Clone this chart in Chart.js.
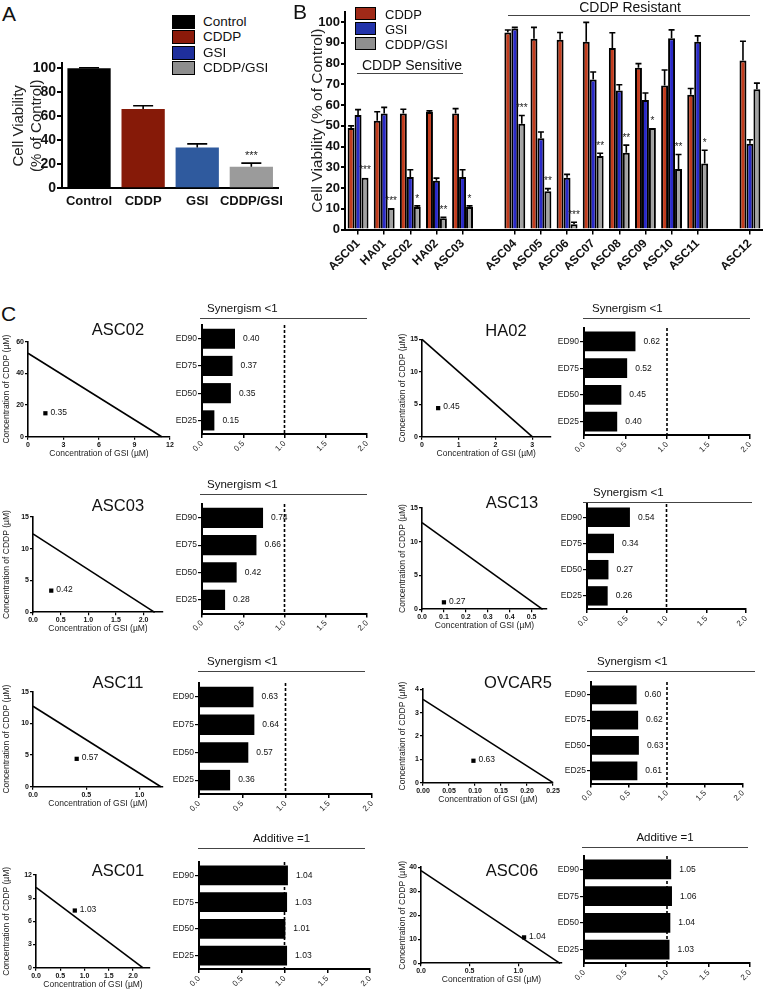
<!DOCTYPE html>
<html>
<head>
<meta charset="utf-8">
<script src="https://cdn.jsdelivr.net/npm/chart.js@4.4.1/dist/chart.umd.min.js"></script>
<style>
  body { margin: 0; background: #fff; width: 763px; height: 995px; position: relative; overflow: hidden;
         font-family: "Liberation Sans", Arial, Helvetica, sans-serif; color: #111; }
  canvas { position: absolute; }
  .t { position: absolute; white-space: nowrap; line-height: 1; }
  .sq { position: absolute; border: 1px solid #000; box-sizing: border-box; }
  .rule { position: absolute; height: 0; border-top: 1px solid #444; }
</style>
</head>
<body>
<script>
// ---------- Panel A : cell viability, pooled ----------
const aCategories = ['Control', 'CDDP', 'GSI', 'CDDP/GSI'];
const aViability = [100, 66, 34, 18];
const aError = [0.4, 2.7, 3, 3];
const aStars = ['', '', '', '***'];
const aTicks = ['0', '20', '40', '60', '80', '100'];

// ---------- Panel B : viability per cell line ----------
const bLines = ['ASC01', 'HA01', 'ASC02', 'HA02', 'ASC03', '', 'ASC04', 'ASC05', 'ASC06', 'ASC07', 'ASC08', 'ASC09', 'ASC10', 'ASC11', '', 'ASC12'];
const bSeries = ['CDDP', 'GSI', 'CDDP/GSI'];
const bCddp     = [49, 52.5, 56, 56.7, 56, null, 95, 92, 91.5, 90.5, 87.5, 78, 69.5, 65, null, 81.5];
const bCddpErr  = [1, 4.3, 2, 0.5, 2.3, null, 1.2, 5.5, 3.5, 9.4, 7.4, 2, 7.4, 3, null, 9.3];
const bGsi      = [55.2, 56, 25.3, 23.5, 25.3, null, 97, 44, 25, 72.4, 67, 62.4, 92.3, 90.5, null, 41.3];
const bGsiErr   = [2.6, 2.9, 3.5, 1.3, 3.5, null, 0.5, 3, 1.6, 3.6, 2.8, 3.4, 4, 2.9, null, 2];
const bCombo    = [25, 10.4, 10.9, 5.4, 10.9, null, 51, 18.5, 2.5, 35.5, 37, 49, 29.2, 31.8, null, 67.7];
const bComboErr = [0, 0, 0.5, 0.5, 0.5, null, 4, 1.2, 1, 1.3, 3.7, 0, 7, 6.4, null, 2.9];
const bStars    = ['***', '***', '*', '**', '*', '', '***', '**', '***', '**', '**', '*', '**', '*', '', ''];
const bTicks = ['0', '10', '20', '30', '40', '50', '60', '70', '80', '90', '100'];
const bGroups = ['CDDP Sensitive', 'CDDP Resistant'];

// ---------- Panel C : isobolograms and combination indices ----------
const cellLines = ['ASC02', 'HA02', 'ASC03', 'ASC13', 'ASC11', 'OVCAR5', 'ASC01', 'ASC06'];
const cddpAlone = [52.7, 15, 12.3, 12.8, 12.7, 3.57, 10.4, 38.6];
const gsiAlone  = [11.3, 3, 2.2, 0.55, 1.2, 0.25, 2.2, 1.43];
const comboGsi  = [1.47, 0.44, 0.33, 0.1, 0.41, 0.097, 0.8, 1.06];
const comboCddp = [14.8, 4.4, 3.4, 1.03, 4.4, 0.94, 7.4, 10.8];
const comboCi   = ['0.35', '0.45', '0.42', '0.27', '0.57', '0.63', '1.03', '1.04'];
const isoXMax = [12, 3.5, 2.35, 0.57, 1.22, 0.25, 2.35, 1.45];
const isoYMax = [60, 15, 15, 15, 15, 4, 12, 40];
const isoXTicks = [
  ['0', '3', '6', '9', '12'], ['0', '1', '2', '3'], ['0.0', '0.5', '1.0', '1.5', '2.0'],
  ['0.0', '0.1', '0.2', '0.3', '0.4', '0.5'], ['0.0', '0.5', '1.0'],
  ['0.00', '0.05', '0.10', '0.15', '0.20', '0.25'], ['0.0', '0.5', '1.0', '1.5', '2.0'], ['0.0', '0.5', '1.0']
];
const isoYTicks = [
  ['0', '20', '40', '60'], ['0', '5', '10', '15'], ['0', '5', '10', '15'], ['0', '5', '10', '15'],
  ['0', '5', '10', '15'], ['0', '1', '2', '3', '4'], ['0', '3', '6', '9', '12'], ['0', '10', '20', '30', '40']
];
const edLabels = ['ED90', 'ED75', 'ED50', 'ED25'];
const ciValues = [
  [0.40, 0.37, 0.35, 0.15], [0.62, 0.52, 0.45, 0.40], [0.74, 0.66, 0.42, 0.28], [0.54, 0.34, 0.27, 0.26],
  [0.63, 0.64, 0.57, 0.36], [0.60, 0.62, 0.63, 0.61], [1.04, 1.03, 1.01, 1.03], [1.05, 1.06, 1.04, 1.03]
];
const ciTicks = ['0.0', '0.5', '1.0', '1.5', '2.0'];
const ciHeadings = ['Synergism <1', 'Synergism <1', 'Synergism <1', 'Synergism <1', 'Synergism <1', 'Synergism <1', 'Additive =1', 'Additive =1'];

// ---------- layout (page pixels) ----------
const isoBox = [[28, 170, 341.7, 436.7], [422, 550.5, 339.3, 436.7], [33, 163, 516.7, 612.3], [422, 547, 507.7, 609.3],
                [33, 163, 691.7, 786.7], [423, 553, 689.3, 782.7], [36, 150, 875, 967.7], [421, 562, 867.3, 963.3]];
const barBox = [[202, 367, 322.5, 434], [584, 750, 325.5, 435], [202, 367, 501.5, 613.5], [587, 746, 502.3, 609],
                [199, 372, 681, 794], [591, 743, 680.4, 783.5], [199, 370, 859.5, 969], [584, 750, 854, 963]];
const nameAt = [[118, 329], [506, 330], [118, 505], [512, 502], [118, 682], [518, 682], [118, 870], [512, 870]];
const headAt = [[200, 367, 318, 207], [583, 750, 318, 592], [200, 367, 494, 207], [583, 752, 502, 593],
                [198, 365, 671, 207], [587, 755, 671, 597], [198, 365, 848, 257], [582, 748, 847, 642]];

const FONT = '"Liberation Sans", Arial, Helvetica, sans-serif';
Chart.defaults.font.family = FONT;
Chart.defaults.color = '#111';
Chart.defaults.plugins.legend.display = false;
Chart.defaults.plugins.tooltip.enabled = false;

// error bars, stars, value labels, point labels, dashed reference line
const marks = {
  id: 'marks',
  beforeDatasetsDraw(chart, args, opts) {
    if (opts.refLine == null) return;
    const ctx = chart.ctx, a = chart.chartArea;
    const px = chart.scales.x.getPixelForValue(opts.refLine);
    ctx.save();
    ctx.strokeStyle = '#000'; ctx.lineWidth = 1.6; ctx.setLineDash([3, 2]);
    ctx.beginPath(); ctx.moveTo(px, a.top); ctx.lineTo(px, a.bottom); ctx.stroke();
    ctx.restore();
  },
  afterDatasetsDraw(chart) {
    const ctx = chart.ctx;
    ctx.save();
    chart.data.datasets.forEach((ds, di) => {
      const meta = chart.getDatasetMeta(di);
      meta.data.forEach((el, i) => {
        const v = ds.data[i];
        if (v == null) return;
        if (ds.errors) {
          const ys = chart.scales.y;
          const e = ds.errors[i] || 0;
          const top = ys.getPixelForValue(v + e);
          if (e > 0) {
            ctx.strokeStyle = '#000'; ctx.lineWidth = 1.6;
            ctx.beginPath();
            ctx.moveTo(el.x, el.y); ctx.lineTo(el.x, top);
            ctx.moveTo(el.x - ds.capHalf, top); ctx.lineTo(el.x + ds.capHalf, top);
            ctx.stroke();
          }
          if (ds.stars && ds.stars[i]) {
            ctx.fillStyle = '#222'; ctx.font = ds.starFont;
            ctx.textAlign = 'center'; ctx.textBaseline = 'bottom';
            ctx.fillText(ds.stars[i], el.x, top - 2);
          }
        }
        if (ds.valueLabels) {
          ctx.fillStyle = '#111'; ctx.font = '8.5px ' + FONT;
          ctx.textAlign = 'left'; ctx.textBaseline = 'middle';
          ctx.fillText(v.toFixed(2), el.x + 8, el.y);
        }
        if (ds.pointLabels) {
          ctx.fillStyle = '#111'; ctx.font = '8.5px ' + FONT;
          ctx.textAlign = 'left'; ctx.textBaseline = 'middle';
          ctx.fillText(ds.pointLabels[i], el.x + 5, el.y - 1);
        }
      });
    });
    ctx.restore();
  }
};

// place a chart so that its plot area sits at box = [x0, x1, y0, y1]
function mk(box, pad, config) {
  const [x0, x1, y0, y1] = box;
  const left = Math.round(x0 - pad.l), top = Math.round(y0 - pad.t);
  const w = Math.round(x1 + pad.r) - left, h = Math.round(y1 + pad.b) - top;
  const c = document.createElement('canvas');
  c.width = w; c.height = h;
  Object.assign(c.style, { left: left + 'px', top: top + 'px', width: w + 'px', height: h + 'px' });
  document.body.appendChild(c);
  const o = config.options;
  o.responsive = false; o.animation = false; o.devicePixelRatio = 1;
  o.layout = { padding: { top: y0 - top, right: Math.round(x1 + pad.r) - x1, left: 0, bottom: 0 } };
  o.scales.x.afterFit = s => { s.height = Math.round(y1 + pad.b) - y1; };
  o.scales.y.afterFit = s => { s.width = x0 - left; };
  config.plugins = [marks];
  return new Chart(c, config);
}

function fixedTicks(list) {
  return s => { s.ticks = list.map(t => ({ value: parseFloat(t) })); };
}

function text(str, x, y, css, centred) {
  const d = document.createElement('div');
  d.className = 't';
  d.textContent = str;
  d.style.cssText += css;
  d.style.left = x + 'px';
  d.style.top = y + 'px';
  d.style.transform = centred ? 'translate(-50%,-50%)' : 'translateY(-50%)';
  document.body.appendChild(d);
}

function swatch(x, y, w, h, color) {
  const d = document.createElement('div');
  d.className = 'sq';
  Object.assign(d.style, { left: x + 'px', top: y + 'px', width: w + 'px', height: h + 'px', background: color });
  document.body.appendChild(d);
}

function rule(x0, x1, y) {
  const d = document.createElement('div');
  d.className = 'rule';
  Object.assign(d.style, { left: x0 + 'px', top: y + 'px', width: (x1 - x0) + 'px' });
  document.body.appendChild(d);
}

const blackBorder = { color: '#000', width: 2 };

// ---------- A ----------
const aColors = ['#000000', '#861a08', '#2f5a9e', '#9b9b9b'];
const aLegendColors = ['#000000', '#8b1a0a', '#1f2f9c', '#8e8e8e'];
mk([62, 279, 61.7, 188.3], { l: 62, r: 10, t: 8, b: 26 }, {
  type: 'bar',
  data: {
    labels: aCategories,
    datasets: [{
      data: aViability, errors: aError, stars: aStars, capHalf: 10, starFont: '11px ' + FONT,
      backgroundColor: aColors, borderWidth: 0, barPercentage: 0.8, categoryPercentage: 1
    }]
  },
  options: {
    scales: {
      x: {
        grid: { drawOnChartArea: false, drawTicks: false },
        border: blackBorder,
        ticks: { font: { size: 13, weight: 'bold' }, color: '#111', maxRotation: 0, autoSkip: false, padding: 5 }
      },
      y: {
        min: 0, max: 104,
        afterBuildTicks: fixedTicks(aTicks),
        grid: { drawOnChartArea: false, color: '#000', lineWidth: 2, tickLength: 5 },
        border: blackBorder,
        ticks: { callback: (v, i) => aTicks[i], font: { size: 14, weight: 'bold' }, color: '#111', padding: 1 },
        title: { display: true, text: ['Cell Viability', '(% of Control)'], font: { size: 15 }, color: '#222', padding: { top: 10, bottom: 0 } }
      }
    }
  }
});
text('A', 2, 13, 'font-size:21px;', false);
aCategories.forEach((name, i) => {
  const cy = 21.5 + i * 15.6;
  swatch(172, cy - 7, 23, 14, aLegendColors[i]);
  text(name, 203, cy, 'font-size:13.5px;', false);
});

// ---------- B ----------
const bColors = ['#c23c1d', '#2a2ac8', '#a3a3a3'];
const bLegendColors = ['#a02a18', '#2233aa', '#8f8f8f'];
const bErrors = [bCddpErr, bGsiErr, bComboErr];
mk([345, 763, 11, 229.5], { l: 37, r: 0, t: 8, b: 40 }, {
  type: 'bar',
  data: {
    labels: bLines,
    datasets: [bCddp, bGsi, bCombo].map((vals, s) => ({
      label: bSeries[s], data: vals, errors: bErrors[s], stars: s === 2 ? bStars : null,
      capHalf: 3, starFont: '10px ' + FONT,
      backgroundColor: bColors[s], borderColor: '#000', borderWidth: 2,
      barPercentage: 1, categoryPercentage: 0.8
    }))
  },
  options: {
    scales: {
      x: {
        grid: { drawOnChartArea: false, offset: false, lineWidth: 1.5, tickLength: 5,
                tickColor: c => (bLines[c.index] ? '#000' : 'rgba(0,0,0,0)') },
        border: blackBorder,
        ticks: { font: { size: 12, weight: 'bold' }, color: '#111', minRotation: 45, maxRotation: 45, autoSkip: false, padding: 2 }
      },
      y: {
        min: 0, max: 105,
        afterBuildTicks: fixedTicks(bTicks),
        grid: { drawOnChartArea: false, color: '#000', lineWidth: 2, tickLength: 4 },
        border: blackBorder,
        ticks: { callback: (v, i) => bTicks[i], font: { size: 13, weight: 'bold' }, color: '#111', padding: 1 },
        title: { display: true, text: 'Cell Viability (% of Control)', font: { size: 15.5 }, color: '#222', padding: { top: 0, bottom: 0 } }
      }
    }
  }
});
text('B', 293, 11, 'font-size:21px;', false);
bSeries.forEach((name, i) => {
  const cy = 13.5 + i * 15;
  swatch(355, cy - 6.5, 21, 13, bLegendColors[i]);
  text(name, 385, cy, 'font-size:13px;', false);
});
text(bGroups[0], 412, 65, 'font-size:14px;', true);
rule(357, 463, 73);
text(bGroups[1], 630, 7, 'font-size:14px;', true);
rule(508, 750, 15);

// ---------- C ----------
text('C', 1, 313, 'font-size:21px;', false);
cellLines.forEach((name, k) => {
  const xt = isoXTicks[k], yt = isoYTicks[k];
  const box = isoBox[k];
  const canvasLeft = k % 2 ? 398 : 2;
  mk(box, { l: box[0] - canvasLeft, r: 12, t: 8, b: 22 }, {
    type: 'scatter',
    data: {
      datasets: [
        { data: [{ x: 0, y: cddpAlone[k] }, { x: gsiAlone[k], y: 0 }], showLine: true,
          borderColor: '#000', borderWidth: 1.6, pointRadius: 0, clip: false },
        { data: [{ x: comboGsi[k], y: comboCddp[k] }], pointLabels: [comboCi[k]],
          pointStyle: 'rect', pointRadius: 3, backgroundColor: '#000', borderWidth: 0, clip: false }
      ]
    },
    options: {
      scales: {
        x: {
          type: 'linear', min: 0, max: isoXMax[k],
          afterBuildTicks: fixedTicks(xt),
          grid: { drawOnChartArea: false, color: '#000', lineWidth: 1.2, tickLength: 3 },
          border: { color: '#000', width: 1.6 },
          ticks: { callback: (v, i) => xt[i], font: { size: 7, weight: 'bold' }, color: '#111', maxRotation: 0, padding: 1 },
          title: { display: true, text: 'Concentration of GSI (µM)', font: { size: 8.5 }, color: '#222', padding: 0 }
        },
        y: {
          type: 'linear', min: 0, max: isoYMax[k],
          afterBuildTicks: fixedTicks(yt),
          grid: { drawOnChartArea: false, color: '#000', lineWidth: 1.2, tickLength: 3 },
          border: { color: '#000', width: 1.6 },
          ticks: { callback: (v, i) => yt[i], font: { size: 7, weight: 'bold' }, color: '#111', padding: 1 },
          title: { display: true, text: 'Concentration of CDDP (µM)', font: { size: 8.5 }, color: '#222', padding: 0 }
        }
      }
    }
  });
  text(name, nameAt[k][0], nameAt[k][1], 'font-size:16.5px;', true);

  mk(barBox[k], { l: 32, r: 14, t: 4, b: 22 }, {
    type: 'bar',
    data: {
      labels: edLabels,
      datasets: [{ data: ciValues[k], valueLabels: true, backgroundColor: '#000', barPercentage: 0.74, categoryPercentage: 1 }]
    },
    options: {
      indexAxis: 'y',
      plugins: { marks: { refLine: 1 } },
      scales: {
        x: {
          min: 0, max: 2,
          afterBuildTicks: fixedTicks(ciTicks),
          grid: { drawOnChartArea: false, color: '#000', lineWidth: 1.5, tickLength: 4 },
          border: blackBorder,
          ticks: { callback: (v, i) => ciTicks[i], font: { size: 8 }, color: '#222', minRotation: 45, maxRotation: 45, padding: 1 }
        },
        y: {
          grid: { drawOnChartArea: false, offset: false, color: '#000', lineWidth: 1.2, tickLength: 4 },
          border: blackBorder,
          ticks: { font: { size: 8.5 }, color: '#222', padding: 1 }
        }
      }
    }
  });
  const hd = headAt[k];
  rule(hd[0], hd[1], hd[2]);
  if (ciHeadings[k].startsWith('Additive')) text(ciHeadings[k], (hd[0] + hd[1]) / 2, hd[2] - 9, 'font-size:11.5px;', true);
  else text(ciHeadings[k], hd[3], hd[2] - 9, 'font-size:11.5px;', false);
});
</script>
</body>
</html>
